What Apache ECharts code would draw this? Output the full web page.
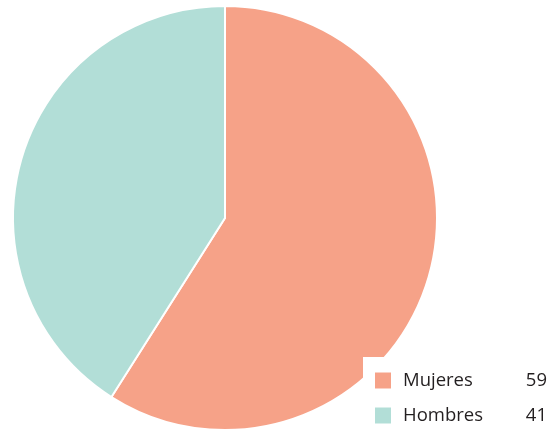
<!DOCTYPE html>
<html>
<head>
<meta charset="utf-8">
<script src="https://cdn.jsdelivr.net/npm/echarts@6/dist/echarts.min.js"></script>
<style>
  html, body { margin: 0; padding: 0; background: #fff; }
  #chart { width: 555px; height: 429px; }
</style>
</head>
<body>
<div id="chart"></div>
<script>
const categories = ['Mujeres', 'Hombres']
const values = [59, 41]
const colors = ['#f6a288', '#b2ded7']

const chart = echarts.init(document.getElementById('chart'))

const option = {
  backgroundColor: '#fff',
  animation: false,

  legend: {
    orient: 'vertical',
    left: 363,
    top: 357,
    padding: [14, 12, 2, 12],
    backgroundColor: '#fff',
    itemWidth: 16,
    itemHeight: 16,
    itemGap: 16,
    icon: 'rect',
    itemStyle: { borderWidth: 0 },
    data: categories,
    formatter: (name) => {
      const v = values[categories.indexOf(name)]
      return `{n|${name}}{v|${v}}`
    },
    textStyle: {
      fontFamily: 'Open Sans',
      color: '#231f20',
      rich: {
        n: { width: 114, padding: [0, 0, 0, 7], fontSize: 18.5, fontFamily: 'Open Sans', color: '#231f20', lineHeight: 16 },
        v: { width: 30, align: 'right', fontSize: 18.5, fontFamily: 'Open Sans', color: '#231f20', lineHeight: 16 }
      }
    }
  },

  series: [
    {
      type: 'pie',
      center: [225, 218],
      radius: 212,
      startAngle: 90,
      clockwise: true,
      label: { show: false },
      labelLine: { show: false },
      itemStyle: {
        borderColor: '#fff',
        borderWidth: 2
      },
      emphasis: { disabled: true },
      data: categories.map((c, i) => ({
        name: c,
        value: values[i],
        itemStyle: { color: colors[i] }
      }))
    }
  ]
}

chart.setOption(option)
</script>
</body>
</html>
